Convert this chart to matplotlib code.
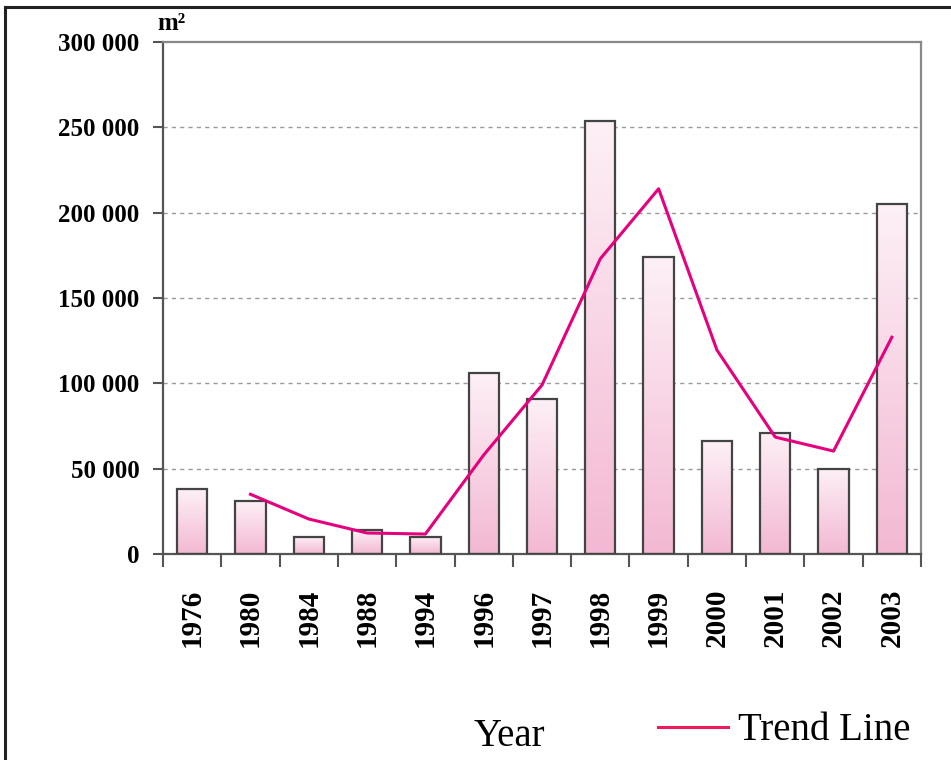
import numpy as np
import matplotlib
matplotlib.use("Agg")
import matplotlib.pyplot as plt
from matplotlib.lines import Line2D
from matplotlib.colors import LinearSegmentedColormap

years = ["1976", "1980", "1984", "1988", "1994", "1996", "1997",
         "1998", "1999", "2000", "2001", "2002", "2003"]
area = [38000, 31000, 10000, 14000, 10000, 106000, 91000,
        254000, 174000, 66000, 71000, 50000, 205000]
trend_years = ["1980", "1984", "1988", "1994", "1996", "1997", "1998",
               "1999", "2000", "2001", "2002", "2003"]
trend = [35000, 20500, 12300, 11700, 58000, 99000, 173000,
         214000, 119500, 68500, 60300, 127000]
yticks = [0, 50000, 100000, 150000, 200000, 250000, 300000]
ytick_labels = ["0", "50 000", "100 000", "150 000", "200 000", "250 000", "300 000"]

plt.rcParams['font.family'] = ['Liberation Serif', 'DejaVu Serif']

fig = plt.figure(figsize=(9.51, 7.6), dpi=100)
ax = fig.add_axes([163/951, 1-554/760, (921-163)/951, (554-42)/760])

x = np.arange(len(years))
cmap = LinearSegmentedColormap.from_list("pk", ["#f3b8d3", "#fdf0f6"])
grad = np.linspace(0, 1, 256).reshape(-1, 1)
bars = ax.bar(x, area, width=0.52, facecolor="none", edgecolor="#444444",
              linewidth=1.6, zorder=3)
for b in bars:
    x0, y0, w, h = b.get_x(), b.get_y(), b.get_width(), b.get_height()
    im = ax.imshow(grad, cmap=cmap, origin="lower", aspect="auto",
                   extent=[x0, x0 + w, y0, y0 + h], zorder=2)
    im.set_clip_path(b)

tx = [years.index(t) for t in trend_years]
ax.plot(tx, trend, color="#e6007e", linewidth=2.2, zorder=4)

ax.set_xlim(-0.5, len(years) - 0.5)
ax.set_ylim(0, 300000)
ax.set_yticks(yticks)
ax.set_yticklabels(ytick_labels, fontsize=18, fontweight="bold")
ax.set_xticks(np.arange(len(years) + 1) - 0.5)
ax.set_xticklabels([])
ax.set_xticks(x, minor=True)
ax.set_xticklabels(years, minor=True, rotation=90, fontsize=21, fontweight="bold")
ax.tick_params(axis="x", which="major", length=9, width=1.5, color="#555555")
ax.tick_params(axis="x", which="minor", length=0, pad=25)
ax.tick_params(axis="y", length=7, width=1.5, color="#555555", pad=10)
for lbl in ax.get_xticklabels(minor=True):
    lbl.set_va("top")

for yv in yticks[1:-1]:
    ax.axhline(yv, color="#9a9a9a", linestyle=(0, (3, 3)), linewidth=1.0, zorder=1)

for s in ["left", "bottom"]:
    ax.spines[s].set_color("#555555")
    ax.spines[s].set_linewidth(1.6)
for s in ["top", "right"]:
    ax.spines[s].set_color("#888888")
    ax.spines[s].set_linewidth(1.6)

fig.text(157/951, 1-24/760, "m²", fontsize=18, fontweight="bold",
         ha="left", va="center")
fig.text(509/951, 1-737/760, "Year", fontsize=28, ha="center", va="center")

handle = Line2D([], [], color="#ee1a5e", linewidth=2.2)
fig.legend([handle], ["Trend Line"], loc="center left",
           bbox_to_anchor=(658/951, 1-731/760), frameon=False,
           borderpad=0, borderaxespad=0,
           fontsize=28, handlelength=1.8, handletextpad=0.26)

# outer frame (left and top edges visible)
fig.add_artist(Line2D([5/951, 5/951], [0, 1-7/760], color="#222222",
                      linewidth=2.2, transform=fig.transFigure))
fig.add_artist(Line2D([5/951, 1], [1-7/760, 1-7/760], color="#222222",
                      linewidth=2.2, transform=fig.transFigure))

fig.savefig("out.png", dpi=100)
